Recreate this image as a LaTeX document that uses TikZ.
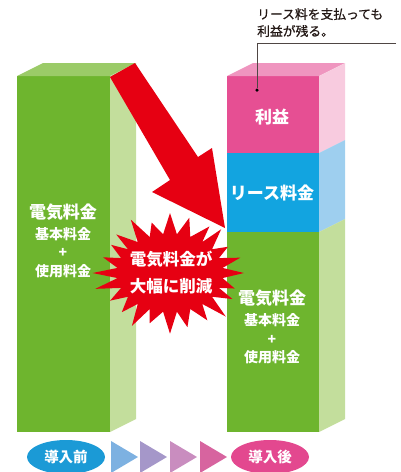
\documentclass[tikz,border=0pt]{standalone}
\usepackage{fontspec}
\newfontfamily\jp{Noto Sans CJK JP}
\newfontfamily\jpnote[FakeBold=0.6]{Noto Sans CJK JP}
\usetikzlibrary{shapes.geometric}

\definecolor{vert}{HTML}{6EB52E}
\definecolor{verthaut}{HTML}{9BCB68}
\definecolor{vertcote}{HTML}{C3DE9C}
\definecolor{rose}{HTML}{E64F93}
\definecolor{rosehaut}{HTML}{EF95BF}
\definecolor{rosecote}{HTML}{F8CBDF}
\definecolor{bleu}{HTML}{12A4E0}
\definecolor{bleucote}{HTML}{9ECFEF}
\definecolor{rouge}{HTML}{E60012}
\definecolor{bleuovale}{HTML}{1B9AD6}
\definecolor{roseovale}{HTML}{E3488F}
\definecolor{fla}{HTML}{7DB1E1}
\definecolor{flb}{HTML}{A597C9}
\definecolor{flc}{HTML}{C98DBF}
\definecolor{fld}{HTML}{D7649F}
\definecolor{texte}{HTML}{231815}

\begin{document}
\begin{tikzpicture}[x=1pt,y=-1pt,
  grand/.style={text=white,inner sep=0pt,font=\jp\bfseries\fontsize{17}{19}\selectfont},
  petit/.style={text=white,inner sep=0pt,font=\jp\bfseries\fontsize{14}{16}\selectfont},
  ovale/.style={ellipse,minimum width=78pt,minimum height=34pt,inner sep=0pt,text=white,
    font=\jp\bfseries\fontsize{14.5}{16}\selectfont}]

\useasboundingbox (0,0) rectangle (400,472);
\clip (0,0) rectangle (400,472);

% Profondeur des barres
  \def\dx{26} \def\dy{13}

% Barre gauche (avant)
  \fill[vert] (17,76) rectangle (110,432);
  \fill[verthaut] (17,76) -- ++(\dx,-\dy) -- (110+\dx,76-\dy) -- (110,76) -- cycle;
  \fill[vertcote] (110,76) -- ++(\dx,-\dy) -- (110+\dx,432-\dy) -- (110,432) -- cycle;

% Barre droite (apres)
  \fill[rose] (227,76) rectangle (319,153);
  \fill[bleu] (227,153) rectangle (319,232);
  \fill[vert] (227,232) rectangle (319,432);
  \fill[rosehaut] (227,76) -- ++(\dx,-\dy) -- (319+\dx,76-\dy) -- (319,76) -- cycle;
  \fill[rosecote] (319,76) -- ++(\dx,-\dy) -- (319+\dx,153-\dy) -- (319,153) -- cycle;
  \fill[bleucote] (319,153) -- ++(\dx,-\dy) -- (319+\dx,232-\dy) -- (319,232) -- cycle;
  \fill[vertcote] (319,232) -- ++(\dx,-\dy) -- (319+\dx,432-\dy) -- (319,432) -- cycle;

% Grande fleche
  \fill[rouge] (110,77) -- (135,63) -- (198,157) -- (212,148) -- (225,228)
    -- (152,192) -- (170,180) -- cycle;

% Etoile
  \def\cx{170} \def\cy{273}
  \fill[rouge] ({\cx+74},\cy) \foreach \k in {1,...,47}{
    -- ({\cx+(mod(\k,2)==0 ? 73+6*sin(\k*137) : 53)*cos(\k*7.5)},
        {\cy+(mod(\k,2)==0 ? 57+5*sin(\k*71) : 39)*sin(\k*7.5)}) } -- cycle;

% Textes des barres
  \node[grand] (avantA) at (63,212) {電気料金};
  \node[petit] (avantB) at (63,234) {基本料金};
  \node[petit] (avantC) at (63,253) {+};
  \node[petit] (avantD) at (63,271) {使用料金};

  \node[grand] (benef) at (272,117) {利益};
  \node[grand] (lease) at (272,193) {リース料金};
  \node[grand] (apresA) at (272,298) {電気料金};
  \node[petit] (apresB) at (272,320) {基本料金};
  \node[petit] (apresC) at (272,340) {+};
  \node[petit] (apresD) at (272,357) {使用料金};

  \node[grand,font=\jp\bfseries\fontsize{16.5}{27}\selectfont,align=center] (baisse) at (171,273)
    {電気料金が\\大幅に削減};

% Note
  \node[anchor=north west,inner sep=0pt,align=left,text=texte,
    font=\jpnote\fontsize{12.8}{17}\selectfont] (note) at (257,8) {リース料を支払っても\\利益が残る。};
  \coordinate (lead) at (396,43);
  \node[circle,fill=black,inner sep=0pt,minimum size=3.5pt] (point) at (257,90) {};
  \draw[texte!80,line width=0.8pt] (lead) -| (point);

% Avant / apres
  \node[ovale,fill=bleuovale] (avant) at (66,457) {導入前};
  \node[ovale,fill=roseovale] (apres) at (270,457) {導入後};
  \foreach \x/\c in {111/fla,140/flb,170/flc,200/fld}
    \fill[\c] (\x,441) -- (\x+27,457) -- (\x,473) -- cycle;

\end{tikzpicture}
\end{document}
